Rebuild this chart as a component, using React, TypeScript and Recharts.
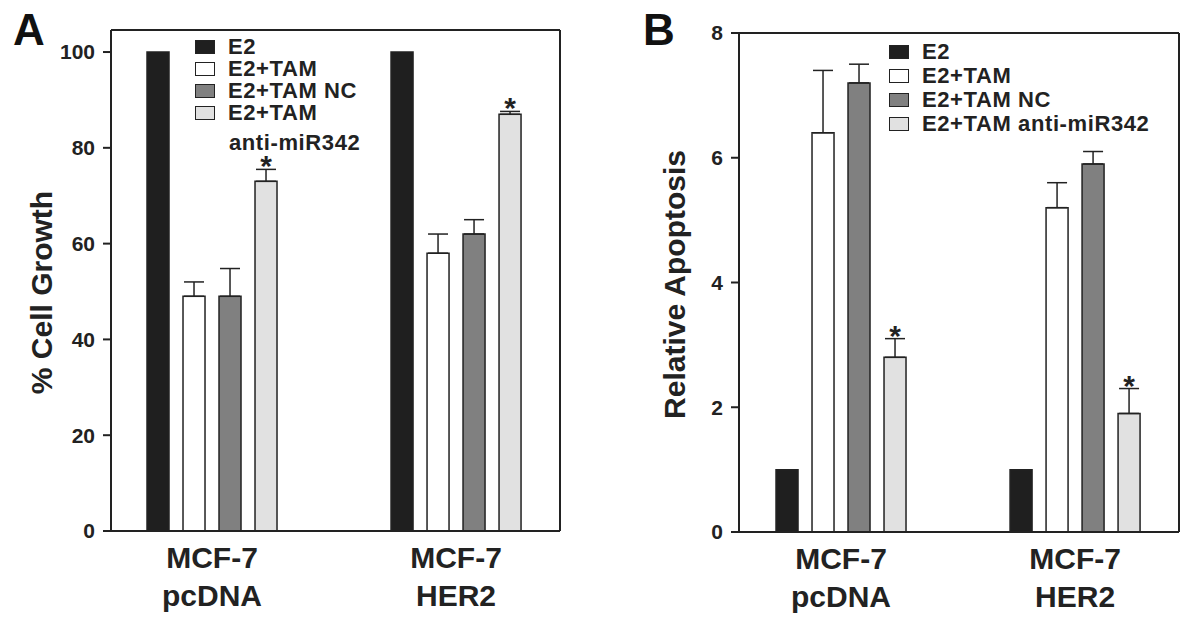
import React from 'react';
import { BarChart, Bar, XAxis, YAxis, ErrorBar, LabelList, Legend, ReferenceLine, Label } from 'recharts';

// groups on the x axis (numeric positions so the bands can be wider than the frame)
const categories = ['MCF-7\npcDNA', 'MCF-7\nHER2'];
const groupPos = [1, 2];

const namesA = ['E2', 'E2+TAM', 'E2+TAM NC', 'E2+TAM\nanti-miR342'];
const namesB = ['E2', 'E2+TAM', 'E2+TAM NC', 'E2+TAM anti-miR342'];
const fills = ['#1f1f1f', '#ffffff', '#808080', '#e1e1e1'];

// A: % cell growth
const growthE2 = [100, 100];
const growthTam = [49, 58];
const growthTamErr = [3, 4];
const growthNc = [49, 62];
const growthNcErr = [5.8, 3];
const growthAnti = [73, 87];
const growthAntiErr = [2.5, 0.6];
const growthTicks = [0, 20, 40, 60, 80, 100];

// B: relative apoptosis
const apopE2 = [1, 1];
const apopTam = [6.4, 5.2];
const apopTamErr = [1.0, 0.4];
const apopNc = [7.2, 5.9];
const apopNcErr = [0.3, 0.2];
const apopAnti = [2.8, 1.9];
const apopAntiErr = [0.3, 0.4];
const apopTicks = [0, 2, 4, 6, 8];

const FONT = '"Liberation Sans", Arial, sans-serif';
const INK = '#222';

const buildRows = (e2, tam, tamErr, nc, ncErr, anti, antiErr) =>
  groupPos.map((x, i) => ({
    x,
    e2: e2[i],
    tam: tam[i],
    tamErr: [0, tamErr[i]],
    nc: nc[i],
    ncErr: [0, ncErr[i]],
    anti: anti[i],
    antiErr: [0, antiErr[i]],
  }));

const growthRows = buildRows(growthE2, growthTam, growthTamErr, growthNc, growthNcErr, growthAnti, growthAntiErr);
const apopRows = buildRows(apopE2, apopTam, apopTamErr, apopNc, apopNcErr, apopAnti, apopAntiErr);

const CatTick = (props: any) => {
  const { x, y, payload } = props;
  const lines = categories[groupPos.indexOf(payload.value)].split('\n');
  return (
    <text x={x} textAnchor="middle" fontFamily={FONT} fontWeight="bold" fontSize={30} fill={INK}>
      <tspan x={x} y={y + 37}>{lines[0]}</tspan>
      <tspan x={x} y={y + 75}>{lines[1]}</tspan>
    </text>
  );
};

// asterisk sits above the error bar of the anti-miR342 bars
const starLabel = (errs: number[]) => (props: any) => {
  const { x, y, width, height, value, index } = props;
  const perUnit = height / value;
  const top = y - errs[index] * perUnit;
  return (
    <text x={x + width / 2} y={top + 7} textAnchor="middle" fontFamily={FONT} fontWeight="bold" fontSize={30} fill={INK}>
      *
    </text>
  );
};

// legend drawn from the series arrays so the order stays as in the figure
const legendContent = (names: string[], rowH: number, textGap: number) => () => (
  <div style={{ fontFamily: FONT, fontWeight: 'bold', fontSize: 22, color: INK, lineHeight: `${rowH}px`, letterSpacing: 0.6 }}>
    {names.map((name, i) => {
      const lines = name.split('\n');
      return (
        <div key={i}>
          <div style={{ display: 'flex', alignItems: 'center', height: rowH, whiteSpace: 'nowrap' }}>
            <span
              style={{
                display: 'inline-block',
                width: 18,
                height: 12,
                background: fills[i],
                border: `1.5px solid ${INK}`,
                marginRight: textGap,
              }}
            />
            {lines[0]}
          </div>
          {lines[1] && (
            <div style={{ paddingLeft: 21 + textGap, marginTop: 8, height: rowH, whiteSpace: 'nowrap' }}>{lines[1]}</div>
          )}
        </div>
      );
    })}
  </div>
);

const Panel = (props: any) => {
  const { rows, names, ticks, yMax, xDomain, yLabel, yLabelX, yLabelShift, plot, errs, legendPos, rowH } = props;
  const W = 600;
  const H = 622;
  return (
    <BarChart
      width={W}
      height={H}
      data={rows}
      margin={{ top: plot.top, right: W - plot.right, left: 0, bottom: 0 }}
      barSize={22}
      barGap={14}
    >
      <XAxis
        dataKey="x"
        type="number"
        domain={xDomain}
        ticks={groupPos}
        allowDataOverflow
        height={H - plot.bottom}
        tickLine={false}
        tickSize={0}
        tickMargin={0}
        axisLine={{ stroke: INK, strokeWidth: 2 }}
        tick={<CatTick />}
      />
      <YAxis
        type="number"
        domain={[0, yMax]}
        ticks={ticks}
        allowDataOverflow
        width={plot.left}
        tickSize={8}
        tickMargin={8}
        axisLine={{ stroke: INK, strokeWidth: 2 }}
        tickLine={{ stroke: INK, strokeWidth: 2 }}
        tick={{ fontFamily: FONT, fontWeight: 'bold', fontSize: 21, fill: INK }}
      >
        <Label
          content={({ viewBox }: any) => {
            const cy = viewBox.y + viewBox.height / 2 + yLabelShift;
            return (
              <text
                x={yLabelX}
                y={cy}
                transform={`rotate(-90 ${yLabelX} ${cy})`}
                textAnchor="middle"
                dominantBaseline="central"
                fontFamily={FONT}
                fontWeight="bold"
                fontSize={30}
                fill={INK}
              >
                {yLabel}
              </text>
            );
          }}
        />
      </YAxis>
      <ReferenceLine y={yMax} stroke={INK} strokeWidth={2} />
      <ReferenceLine x={xDomain[1]} stroke={INK} strokeWidth={2} />
      <Legend
        layout="vertical"
        align="center"
        verticalAlign="middle"
        wrapperStyle={{ left: legendPos.left, top: legendPos.top, width: 'auto', height: 'auto' }}
        content={legendContent(names, rowH, 13)}
      />
      <Bar dataKey="e2" name={names[0]} fill={fills[0]} stroke={INK} strokeWidth={1.5} isAnimationActive={false} />
      <Bar dataKey="tam" name={names[1]} fill={fills[1]} stroke={INK} strokeWidth={1.5} isAnimationActive={false}>
        <ErrorBar dataKey="tamErr" width={10} stroke={INK} strokeWidth={1.5} direction="y" />
      </Bar>
      <Bar dataKey="nc" name={names[2]} fill={fills[2]} stroke={INK} strokeWidth={1.5} isAnimationActive={false}>
        <ErrorBar dataKey="ncErr" width={10} stroke={INK} strokeWidth={1.5} direction="y" />
      </Bar>
      <Bar dataKey="anti" name={names[3]} fill={fills[3]} stroke={INK} strokeWidth={1.5} isAnimationActive={false}>
        <ErrorBar dataKey="antiErr" width={10} stroke={INK} strokeWidth={1.5} direction="y" />
        <LabelList dataKey="anti" content={starLabel(errs)} />
      </Bar>
    </BarChart>
  );
};

const Letter = ({ ch, x }: { ch: string; x: number }) => (
  <svg width={60} height={60} style={{ position: 'absolute', left: x, top: 0 }}>
    <text x={0} y={45} fontFamily={FONT} fontWeight="bold" fontSize={44} fill="#111">
      {ch}
    </text>
  </svg>
);

export default function App() {
  return (
    <div style={{ position: 'absolute', left: 0, top: 0, width: 1200, height: 622, background: '#fff', overflow: 'hidden' }}>
      <div style={{ position: 'absolute', left: 0, top: 0 }}>
        <Panel
          rows={growthRows}
          names={namesA}
          ticks={growthTicks}
          yMax={104.6}
          xDomain={[0.586, 2.426]}
          yLabel="% Cell Growth"
          yLabelX={41}
          yLabelShift={12}
          plot={{ left: 111, right: 560, top: 30, bottom: 531 }}
          errs={growthAntiErr}
          legendPos={{ left: 195, top: 36 }}
          rowH={22}
        />
      </div>
      <div style={{ position: 'absolute', left: 600, top: 0 }}>
        <Panel
          rows={apopRows}
          names={namesB}
          ticks={apopTicks}
          yMax={8}
          xDomain={[0.564, 2.444]}
          yLabel="Relative Apoptosis"
          yLabelX={74}
          yLabelShift={2}
          plot={{ left: 139, right: 579, top: 33, bottom: 532 }}
          errs={apopAntiErr}
          legendPos={{ left: 289, top: 40 }}
          rowH={24}
        />
      </div>
      <Letter ch="A" x={13} />
      <Letter ch="B" x={643} />
    </div>
  );
}
